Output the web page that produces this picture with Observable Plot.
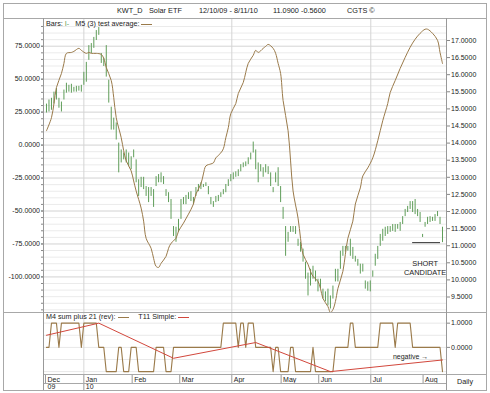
<!DOCTYPE html>
<html><head><meta charset="utf-8">
<script src="https://cdn.jsdelivr.net/npm/d3@7"></script>
<script src="https://cdn.jsdelivr.net/npm/@observablehq/plot@0.6"></script>
<style>
html,body{margin:0;padding:0;background:#fff;}
#chart{position:relative;width:490px;height:393px;overflow:hidden;font-family:"Liberation Sans",Arial,sans-serif;color:#222;}
#chart .ln{position:absolute;background:#a8a8a8;}
#chart .txt{position:absolute;font-size:7.2px;line-height:8px;white-space:pre;}
#chart svg{position:absolute;left:0;overflow:visible;}
.u{display:inline-block;width:11px;height:0;border-bottom:1px solid;vertical-align:1px;}
</style></head>
<body><div id="chart"></div>
<script>
// ---------- data ----------
const barHigh = [15.14,15.26,15.31,15.49,15.6,15.31,15.2,15.55,15.75,15.69,
15.72,15.63,15.66,15.66,15.69,16.07,16.36,16.85,16.91,17.09,
17.29,17.38,16.62,16.48,16.85,15.84,15.05,14.73,14.59,14.0,
13.8,13.71,13.8,13.71,13.6,13.8,13.51,12.93,13.0,13.0,
12.73,12.7,12.7,12.64,13.02,13.08,13.13,13.02,12.64,12.55,
12.35,11.56,11.54,11.77,12.35,12.41,12.47,12.55,12.58,12.41,
12.7,12.79,12.84,12.79,12.84,12.73,12.41,12.29,12.44,12.47,
12.55,12.64,12.79,12.93,13.08,13.13,13.16,13.22,13.37,13.42,
13.45,13.57,13.71,14.03,13.8,13.42,13.37,13.28,13.37,13.31,
13.13,12.7,13.13,13.28,12.73,12.12,11.56,11.39,11.56,11.56,
11.56,11.19,11.1,10.9,10.52,10.2,10.31,10.4,10.26,10.02,
10.02,9.73,9.65,9.73,9.53,9.82,10.31,10.31,10.84,10.98,
10.98,10.98,11.19,10.95,10.69,10.6,10.46,10.46,9.97,9.94,
9.97,10.26,10.75,10.98,11.33,11.48,11.54,11.56,11.56,11.62,
11.62,11.62,11.68,11.85,12.06,12.15,12.29,12.29,12.35,12.06,
11.97,11.33,11.68,11.83,11.85,11.83,11.91,12.0,11.83,11.54];
const barLow = [14.88,14.91,14.96,15.14,15.26,15.02,14.91,15.26,15.46,15.49,
15.46,15.49,15.49,15.52,15.49,15.69,15.78,16.42,16.62,16.77,
17.0,17.15,16.33,16.24,15.93,15.17,14.38,14.38,14.09,13.13,
13.42,13.51,13.42,13.31,13.22,13.57,12.84,12.44,12.7,12.64,
12.44,12.26,12.44,12.12,12.73,12.84,12.84,12.79,12.44,12.26,
11.77,11.27,11.1,11.39,11.77,12.2,12.2,12.35,12.29,12.2,
12.44,12.58,12.64,12.7,12.73,12.49,12.2,12.12,12.26,12.29,
12.41,12.49,12.55,12.73,12.87,12.93,13.0,13.02,13.16,13.28,
13.31,13.37,13.51,13.71,13.22,12.84,13.16,13.0,13.13,13.08,
12.73,12.55,12.84,12.73,12.26,11.77,10.69,11.1,11.39,11.39,
11.33,10.98,10.81,10.52,10.02,9.53,9.82,10.02,9.94,9.65,
9.73,9.44,9.36,9.24,9.15,9.44,9.94,9.94,10.31,10.69,
10.81,10.84,10.69,10.6,10.52,10.4,10.17,10.23,9.73,9.67,
9.65,10.08,10.4,10.6,10.98,11.13,11.27,11.33,11.39,11.42,
11.39,11.48,11.42,11.62,11.85,11.97,12.06,11.97,11.91,11.85,
11.68,11.24,11.54,11.62,11.68,11.71,11.71,11.85,11.62,11.09];
const m5Index = [0,2,3,4,6,7,8,10,11,13,14,16,17,18,20,22,23,24,26,27,
28,30,31,32,34,35,36,38,39,40,42,43,44,45,46,48,49,50,52,53,
55,57,59,60,62,63,64,66,67,68,70,71,72,73,74,76,77,79,80,81,
83,84,85,87,88,89,91,92,93,94,95,97,98,99,101,102,103,105,106,107,
109,110,111,113,114,115,116,117,119,120,121,123,124,126,127,129,131,133,135,137,
138,140,142,144,146,148,150,152,153,155,157,158,159];
const m5Value = [10.9,20.8,31.5,43.7,54.3,62,69.6,70.3,71.1,73.4,71.9,69.6,70.3,69.6,69.6,68.8,65.8,58.9,49,36,
20.8,5.6,-4.3,-11.9,-19.6,-27.2,-34.8,-47.8,-57.7,-70.7,-78.3,-85.9,-92,-92.8,-89.7,-84.4,-78.3,-74.5,-70.7,-65.3,
-59.2,-52.4,-44.7,-37.1,-29.5,-21.9,-15.8,-14.3,-13.5,-9.7,-5.9,-2.8,5.6,13.2,23.9,31.5,39.1,47.5,55.1,62,
68.1,71.9,70.3,73.4,74.9,76.4,73.4,69.6,62,54.3,33.8,10.9,-12,-34.8,-55.4,-70.7,-82.8,-90.4,-95.8,-99.6,
-103.4,-108.7,-116.4,-122.5,-127,-124.8,-118.7,-108.8,-95.8,-82.8,-70.7,-57.7,-44.7,-32.5,-23.4,-17.3,-9.7,3.3,18.5,31.5,
39.9,49,58.2,66.5,74.2,80.3,84.8,87.9,87.9,84.8,79.5,70.3,61.9];
const m4Value = [0,0,1,1,1,0,1,1,1,1, 1,1,1,1,0,1,1,1,1,1,
1,0,0,0,-1,-1,-1,-1,-1,0, 0,-1,-1,-1,0,0,0,-1,-1,-1,
-1,-1,-1,-1,0,0,0,0,-1,-1, -1,0,0,0,0,0,0,0,0,0,
0,0,0,0,0,0,0,0,0,0, 0,1,1,1,1,1,1,0,1,1,
0,1,1,1,0,0,0,0,0,0, 0,-1,0,0,-1,-1,-1,-1,0,0,
-1,-1,-1,-1,-1,-1,-1,0,-1,-1, -1,-1,-1,-1,-1,-1,0,0,0,0,
0,0,1,1,0,0,0,0,0,0, 0,0,0,0,1,1,1,1,1,1,
0,1,1,1,1,1,1,0,0,0, 0,0,0,0,0,0,0,0,0,-1];
const t11Index = [0,21,51,84,114,159];
const t11Value = [0.5,1,-0.45,0.2,-1,-0.52];
const monthNames = ["Dec","Jan","Feb","Mar","Apr","May","Jun","Jul","Aug"];
const monthPos = [-0.4,15,34.4,53.5,74.4,94.2,109.3,130.2,151.2];
const yearNames = ["09","10"];
const yearPos = [-0.4,15];
const leftTicks = [75,50,25,0,-25,-50,-75,-100];
const rightTicks = [17,16.5,16,15.5,15,14.5,14,13.5,13,12.5,12,11.5,11,10.5,10,9.5];
const lowerTicks = [1,0];
const lastClose = 11.09;
const closeLineFrom = 147, closeLineTo = 158.2;
const noteText = "SHORT\nCANDIDATE";
const noteIdx = 152, notePrice = 10.36;
const negText = "negative \u2192";
const negIdx = 153.3, negVal = -0.4;
const titleParts = ["KWT_D","Solar ETF","12/10/09 - 8/11/10","11.0900","-0.5600","CGTS \u00a9"];

// ---------- layout ----------
const FONT = '"Liberation Sans", Arial, sans-serif';
const BROWN = "#9a7a4a", GREEN = "#5f9d59", RED = "#d2473c";
const chart = document.getElementById("chart");
function ln(l,t,w,h,c){const d=document.createElement("div");d.className="ln";d.style.left=l+"px";d.style.top=t+"px";d.style.width=w+"px";d.style.height=h+"px";if(c)d.style.background=c;chart.appendChild(d);}
function txt(html,l,t,extra){const d=document.createElement("div");d.className="txt";d.style.left=l+"px";d.style.top=t+"px";if(extra)d.style.cssText+=extra;d.innerHTML=html;chart.appendChild(d);return d;}

const xDomain = [-1.2, 160.6];
const toPrice = v => 13.9415 + 0.038538 * v;
const fromPrice = p => (p - 13.9415) / 0.038538;
const bars = barHigh.map((h,i)=>({i, high:h, low:barLow[i]}));
const m5 = m5Index.map((i,k)=>({i, v:m5Value[k]}));
const m4 = m4Value.map((v,i)=>({i, v}));
const t11 = t11Index.map((i,k)=>({i, v:t11Value[k]}));
const gridMinor = d3.range(-125, 95, 5);
const quarterPos = [monthPos[1], monthPos[4], monthPos[7]];
const baseStyle = {fontFamily: FONT, fontSize: "7px", background: "transparent", color: "#222", overflow: "visible"};

const mainSvg = Plot.plot({
  width: 490, height: 294,
  marginLeft: 43, marginRight: 44, marginTop: 0, marginBottom: 0,
  style: baseStyle,
  x: {domain: xDomain, axis: null},
  y: {domain: [9.047, 17.643], axis: null},
  marks: [
    Plot.ruleY(gridMinor, {y: d => toPrice(d), stroke: "#ebebeb"}),
    Plot.ruleY(leftTicks, {y: d => toPrice(d), stroke: "#dcdcdc"}),
    Plot.ruleX(quarterPos, {stroke: "#d4d4d4"}),
    Plot.ruleX(bars, {x: "i", y1: "low", y2: "high", stroke: GREEN, strokeWidth: 1}),
    Plot.line(m5, {x: "i", y: d => toPrice(d.v), stroke: BROWN, strokeWidth: 1, curve: "catmull-rom"}),
    Plot.ruleY([lastClose], {x1: closeLineFrom, x2: closeLineTo, stroke: "#333"}),
    Plot.text([noteText], {x: noteIdx, y: notePrice, text: d => d, fontSize: 7.4, lineHeight: 1.15, fill: "#222"}),
    Plot.axisY(gridMinor.map(toPrice), {anchor: "left", label: null, tickSize: 2, tickFormat: () => "", stroke: "#888"}),
    Plot.axisY(leftTicks.map(toPrice), {anchor: "left", label: null, tickSize: 2, tickPadding: 1.5, fontSize: 7, stroke: "#888", tickFormat: p => Math.round(fromPrice(p)).toFixed(4)}),
    Plot.axisY(rightTicks, {anchor: "right", label: null, tickSize: 3, tickPadding: 1.5, fontSize: 7, stroke: "#888", tickFormat: d => d.toFixed(4)})
  ]
});
mainSvg.style.top = "18px";
chart.appendChild(mainSvg);

const lowerSvg = Plot.plot({
  width: 490, height: 62,
  marginLeft: 43, marginRight: 44, marginTop: 0, marginBottom: 0,
  style: baseStyle,
  x: {domain: xDomain, axis: null},
  y: {domain: [-1.12, 1.44], axis: null},
  marks: [
    Plot.ruleY([1, 0.5, 0, -0.5, -1], {stroke: "#e8e8e8"}),
    Plot.ruleX(quarterPos, {stroke: "#d8d8d8"}),
    Plot.line(m4, {x: "i", y: "v", stroke: BROWN, strokeWidth: 1.1}),
    Plot.line(t11, {x: "i", y: "v", stroke: RED, strokeWidth: 1}),
    Plot.text([negText], {x: negIdx, y: negVal, text: d => d, textAnchor: "end", fontSize: 7, fill: "#222"}),
    Plot.axisY(lowerTicks, {anchor: "right", label: null, tickSize: 3, tickPadding: 1.5, fontSize: 7, stroke: "#888", tickFormat: d => d.toFixed(4)})
  ]
});
lowerSvg.style.top = "312px";
chart.appendChild(lowerSvg);

const bandSvg = Plot.plot({
  width: 490, height: 16,
  marginLeft: 43, marginRight: 44, marginTop: 0, marginBottom: 0,
  style: baseStyle,
  x: {domain: xDomain, axis: null},
  y: {domain: [0, 16], range: [0, 16], axis: null},
  marks: [
    Plot.ruleX(monthPos, {y1: 0, y2: 9, stroke: "#999"}),
    Plot.ruleX([yearPos[1]], {y1: 9, y2: 16, stroke: "#999"}),
    Plot.text(monthNames, {x: (d,i) => monthPos[i], y: 4.8, text: d => d, textAnchor: "start", lineAnchor: "middle", dx: 2, fontSize: 7, fill: "#222"}),
    Plot.text(yearNames, {x: (d,i) => yearPos[i], y: 12.3, text: d => d, textAnchor: "start", lineAnchor: "middle", dx: 2, fontSize: 7, fill: "#222"})
  ]
});
bandSvg.style.top = "374px";
chart.appendChild(bandSvg);

// frame lines
ln(3,3,484,1); ln(3,390,484,1); ln(3,3,1,388); ln(486,3,1,388);
ln(3,18,484,1); ln(3,312,484,1); ln(43,374,444,1); ln(43,383,403,1);
ln(43,18,1,372,"#999"); ln(446,18,1,372,"#999");

// title
const titleLeft = [117,149,199,273,301,347];
titleParts.forEach((t,i)=>txt(t, titleLeft[i], 7, "font-size:7.3px;"));
// legends
txt('Bars: <span style="color:'+GREEN+'">I-</span>   M5 (3) test average: <span class="u" style="color:'+BROWN+'"></span>', 46, 20);
txt('M4 sum plus 21 (rev): <span class="u" style="color:'+BROWN+'"></span>     T11 Simple: <span class="u" style="color:'+RED+'"></span>', 46, 312.5);
txt('Daily', 457, 378);
</script></body></html>
